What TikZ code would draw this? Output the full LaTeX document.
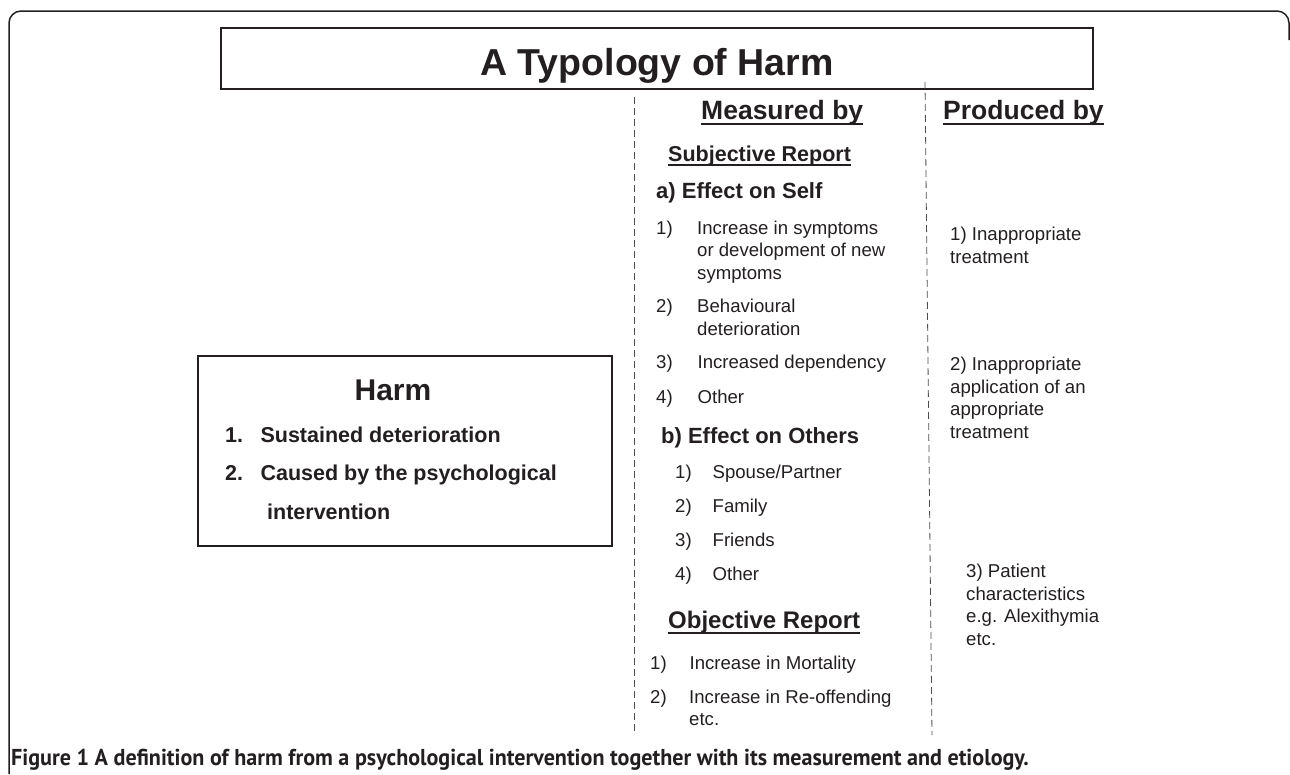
\documentclass[tikz,border=0pt]{standalone}
\usepackage{fontspec}
\setmainfont{Liberation Sans}
\newfontfamily\capfont[FakeStretch=0.96]{PT Sans}
\usetikzlibrary{positioning}
\definecolor{ink}{HTML}{231F20}

\tikzset{
  txt/.style={inner sep=0pt, anchor=base west, text=ink},
  head/.style={txt, font=\bfseries\fontsize{26.5}{30}\selectfont},
  subhead/.style={txt, font=\bfseries\fontsize{22}{26}\selectfont},
  item/.style={txt, align=left, font=\fontsize{18.6}{22.5}\selectfont},
  harmitem/.style={txt, font=\bfseries\fontsize{21.5}{25}\selectfont},
  uline/.style={draw=ink, line width=2pt},
  divider/.style={draw=ink!80, line width=0.8pt, dash pattern=on 7pt off 4pt},
  box/.style={draw=ink, line width=1.3pt, inner sep=0pt}
}

\begin{document}
\begin{tikzpicture}[x=1pt, y=-1pt]
    \useasboundingbox (0,0) rectangle (1290,774);
    \draw[ink, line width=1.5pt, rounded corners=12pt] (9,774) -- (9,11) -- (1289,11) -- (1289,40);

    \node [box, line width=2pt, minimum width=872pt, minimum height=61pt, text height=33pt, text depth=0pt,
        font=\bfseries\fontsize{37.5}{40}\selectfont, text=ink] (title) at (657,58.5) {A Typology of Harm};

    % column dividers
    \coordinate (mtop) at (634,97);
    \coordinate (mbot) at (634,734);
    \coordinate (ptop) at (925,82);
    \coordinate (pbot) at (932,735);
    \draw[divider] (mtop) -- (mbot);
    \draw[divider] (ptop) -- (pbot);

    \node [head] (measured) at (701,119) {Measured by};
    \node [head] (produced) at (943,119) {Produced by};
    \draw[uline] ([yshift=-4.5pt]measured.base west) -- ([yshift=-4.5pt]measured.base east);
    \draw[uline] ([yshift=-4.5pt]produced.base west) -- ([yshift=-4.5pt]produced.base east);

    \node [subhead, font=\bfseries\fontsize{21.5}{25}\selectfont] (subj) at (668,161) {Subjective Report};
    \draw[uline] ([yshift=-4pt]subj.base west) -- ([yshift=-4pt]subj.base east);

    % multi-line texts sit on their last line
    \node [subhead] (self) at (656,198) {a) Effect on Self};
    \node [item] (s1n) at (656,234) {1)};
    \node [item] (s1) at (697,279) {Increase in symptoms\\or development of new\\symptoms};
    \node [item] (s2n) at (656,312.5) {2)};
    \node [item] (s2) at (697,335) {Behavioural\\deterioration};
    \node [item] (s3n) at (656,368) {3)};
    \node [item, base right=24.5pt of s3n] (s3) {Increased dependency};
    \node [item] (s4n) at (656,403) {4)};
    \node [item, base right=24.5pt of s4n] (s4) {Other};

    \node [subhead] (others) at (661,443) {b) Effect on Others};
    \node [item] (o1n) at (675,478) {1)};
    \node [item, base right=20.5pt of o1n] (o1) {Spouse/Partner};
    \node [item] (o2n) at (675,512) {2)};
    \node [item, base right=20.5pt of o2n] (o2) {Family};
    \node [item] (o3n) at (675,546) {3)};
    \node [item, base right=20.5pt of o3n] (o3) {Friends};
    \node [item] (o4n) at (675,580) {4)};
    \node [item, base right=20.5pt of o4n] (o4) {Other};

    \node [subhead, font=\bfseries\fontsize{24}{28}\selectfont] (objective) at (668,628) {Objective Report};
    \draw[uline, line width=2.3pt] ([yshift=-5pt]objective.base west) -- ([yshift=-5pt]objective.base east);
    \node [item] (j1n) at (650,669) {1)};
    \node [item, base right=22.5pt of j1n] (j1) {Increase in Mortality};
    \node [item] (j2n) at (650,703) {2)};
    \node [item] (j2) at (689,725.5) {Increase in Re-offending\\etc.};

    \node [item] (p1) at (950,263) {1) Inappropriate\\treatment};
    \node [item] (p2) at (950,438) {2) Inappropriate\\application of an\\appropriate\\treatment};
    \node [item] (p3) at (966,645) {3) Patient\\characteristics\\e.g. Alexithymia\\etc.};

    % definition box
    \node [box, minimum width=414pt, minimum height=190pt] (harm) at (405,451) {};
    \node [txt, anchor=base, font=\bfseries\fontsize{30}{34}\selectfont] (harmhd) at (393,400) {Harm};
    \node [harmitem] (h1n) at (225,442) {1.};
    \node [harmitem, base right=17pt of h1n] (h1) {Sustained deterioration};
    \node [harmitem] (h2n) at (225,480) {2.};
    \node [harmitem, base right=17pt of h2n] (h2) {Caused by the psychological};
    \node [harmitem] (h3) at (267,519) {intervention};

    \node [txt, font=\capfont\bfseries\fontsize{23}{27}\selectfont] (caption) at (11,765)
        {Figure 1 A definition of harm from a psychological intervention together with its measurement and etiology.};
\end{tikzpicture}
\end{document}
